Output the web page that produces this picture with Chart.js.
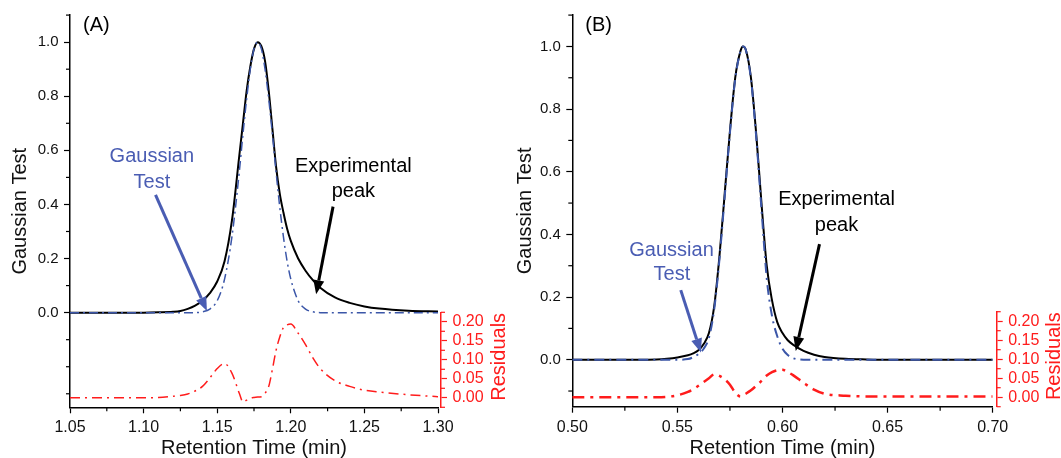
<!DOCTYPE html>
<html>
<head>
<meta charset="utf-8">
<script src="https://cdn.jsdelivr.net/npm/chart.js@4.4.1/dist/chart.umd.min.js"></script>
<style>
  html, body { margin: 0; padding: 0; background: #fff; }
  #wrap { position: relative; width: 1061px; height: 458px; overflow: hidden; }
  #chartA { position: absolute; left: 0; top: 0; }
  #chartB { position: absolute; left: 510px; top: 0; }
</style>
</head>
<body>
<div id="wrap">
  <canvas id="chartA" width="510" height="458"></canvas>
  <canvas id="chartB" width="551" height="458"></canvas>
</div>
<script>
// ---- panel (A) data ----
const timeA = [1.05, 1.08, 1.10, 1.11, 1.12, 1.125, 1.13, 1.135, 1.14, 1.145, 1.15, 1.155, 1.16, 1.165, 1.1675,
  1.17, 1.1725, 1.175, 1.1775, 1.18, 1.1825, 1.185, 1.1875, 1.19, 1.1925, 1.195, 1.1975, 1.20, 1.205, 1.21,
  1.215, 1.22, 1.23, 1.24, 1.25, 1.26, 1.28, 1.30];
const expA = [0, 0, 0, 0.001, 0.003, 0.006, 0.014, 0.026, 0.044, 0.072, 0.115, 0.19, 0.34, 0.58, 0.70,
  0.82, 0.91, 0.975, 1.0, 0.985, 0.93, 0.82, 0.68, 0.54, 0.44, 0.37, 0.31, 0.265, 0.20, 0.155,
  0.12, 0.092, 0.056, 0.036, 0.023, 0.015, 0.007, 0.004];
const gaussA = [0, 0, 0, 0, 0, 0, 0, 0, 0.003, 0.013, 0.044, 0.124, 0.28, 0.52, 0.66,
  0.79, 0.90, 0.975, 1.0, 0.975, 0.90, 0.79, 0.66, 0.52, 0.39, 0.28, 0.19, 0.124, 0.044, 0.013,
  0.003, 0, 0, 0, 0, 0, 0, 0];
const residA = [0, 0, 0, 0.001, 0.004, 0.006, 0.01, 0.018, 0.03, 0.052, 0.077, 0.09, 0.065, 0.012, -0.011,
  -0.006, -0.001, 0.001, 0.002, 0.003, 0.012, 0.03, 0.075, 0.125, 0.16, 0.185, 0.192, 0.194, 0.17, 0.14,
  0.105, 0.077, 0.045, 0.03, 0.02, 0.015, 0.008, 0.003];

// ---- panel (B) data ----
const timeB = [0.50, 0.52, 0.54, 0.545, 0.55, 0.555, 0.5575, 0.56, 0.5625, 0.565, 0.5675, 0.57, 0.5725,
  0.575, 0.5775, 0.58, 0.5812, 0.5825, 0.585, 0.5875, 0.59, 0.5925, 0.595, 0.5975, 0.60, 0.6025, 0.605,
  0.61, 0.615, 0.62, 0.63, 0.64, 0.65, 0.70];
const expB = [0, 0, 0.001, 0.003, 0.007, 0.014, 0.02, 0.03, 0.05, 0.085, 0.17, 0.33, 0.53,
  0.73, 0.90, 0.985, 1.0, 0.99, 0.90, 0.72, 0.50, 0.30, 0.19, 0.12, 0.085, 0.062, 0.048,
  0.028, 0.016, 0.009, 0.003, 0.001, 0, 0];
const gaussB = [0, 0, 0, 0, 0, 0.002, 0.008, 0.018, 0.035, 0.07, 0.16, 0.32, 0.52,
  0.725, 0.895, 0.985, 1.0, 0.99, 0.895, 0.71, 0.48, 0.26, 0.14, 0.075, 0.035, 0.015, 0.005,
  0, 0, 0, 0, 0, 0, 0];
const residB = [0, 0, 0, 0.001, 0.005, 0.014, 0.021, 0.03, 0.04, 0.05, 0.06, 0.056, 0.047,
  0.033, 0.012, 0.002, 0.005, 0.009, 0.018, 0.03, 0.043, 0.057, 0.066, 0.071, 0.072, 0.066, 0.058,
  0.038, 0.02, 0.009, 0.004, 0.002, 0.002, 0.002];

// ---- ticks ----
const xTicksA = [1.05, 1.075, 1.10, 1.125, 1.15, 1.175, 1.20, 1.225, 1.25, 1.275, 1.30];
const xLabelsA = [1.05, 1.10, 1.15, 1.20, 1.25, 1.30];
const xTicksB = [0.50, 0.525, 0.55, 0.575, 0.60, 0.625, 0.65, 0.675, 0.70];
const xLabelsB = [0.50, 0.55, 0.60, 0.65, 0.70];
const yTicksA = [-0.3, -0.2, -0.1, 0, 0.1, 0.2, 0.3, 0.4, 0.5, 0.6, 0.7, 0.8, 0.9, 1.0, 1.1];
const yTicksB = [-0.1, 0, 0.1, 0.2, 0.3, 0.4, 0.5, 0.6, 0.7, 0.8, 0.9, 1.0, 1.1];
const yLabels = [0, 0.2, 0.4, 0.6, 0.8, 1.0];
const rTicks = [-0.025, 0, 0.025, 0.05, 0.075, 0.10, 0.125, 0.15, 0.175, 0.20, 0.225];
const rLabels = [0, 0.05, 0.10, 0.15, 0.20];

const BLUE_LINE = '#3b56a8';
const BLUE_TEXT = '#4a5db3';
const RED = '#ff1c1c';
const NONE = 'rgba(0,0,0,0)';

Chart.defaults.font.family = 'Arial, "Liberation Sans", Helvetica, sans-serif';

function pts(xs, ys) { return xs.map((x, i) => ({ x: x, y: ys[i] })); }
function isIn(v, arr) { return arr.some(a => Math.abs(a - v) < 1e-9); }
function setTicks(vals) { return s => { s.ticks = vals.map(v => ({ value: v })); }; }

// moves the residual axis to the lower right corner of the plot
const residAxis = {
  id: 'residAxis',
  afterLayout(chart, args, o) {
    const s = chart.scales.yRes;
    const w = s.width;
    s.left = chart.chartArea.right + o.gap;
    s.right = s.left + w;
    s.bottom = chart.chartArea.bottom;
    s.top = s.bottom - o.height;
    s.height = o.height;
    s.configure();
  }
};

// short ticks for the unlabeled tick values
const minorTicks = {
  id: 'minorTicks',
  afterDraw(chart) {
    const ctx = chart.ctx;
    ctx.save();
    ctx.lineWidth = 1.2;
    Object.values(chart.scales).forEach(s => {
      ctx.strokeStyle = s.options.border.color;
      s.ticks.forEach(t => {
        if (t.label !== '') return;
        const p = s.getPixelForValue(t.value);
        ctx.beginPath();
        if (s.position === 'bottom') { ctx.moveTo(p, s.top); ctx.lineTo(p, s.top + 4); }
        else if (s.position === 'left') { ctx.moveTo(s.right, p); ctx.lineTo(s.right - 4, p); }
        else { ctx.moveTo(s.left, p); ctx.lineTo(s.left + 4, p); }
        ctx.stroke();
      });
    });
    ctx.restore();
  }
};

function drawArrow(ctx, x1, y1, x2, y2, color) {
  const ang = Math.atan2(y2 - y1, x2 - x1), hl = 14, hw = 5.5;
  const bx = x2 - hl * Math.cos(ang), by = y2 - hl * Math.sin(ang);
  ctx.strokeStyle = color;
  ctx.lineWidth = 3;
  ctx.beginPath(); ctx.moveTo(x1, y1); ctx.lineTo(bx, by); ctx.stroke();
  ctx.fillStyle = color;
  ctx.beginPath();
  ctx.moveTo(x2, y2);
  ctx.lineTo(bx + hw * Math.sin(ang), by - hw * Math.cos(ang));
  ctx.lineTo(bx - hw * Math.sin(ang), by + hw * Math.cos(ang));
  ctx.closePath(); ctx.fill();
}

// annotation texts, arrows, panel letter and residual title
const notes = {
  id: 'notes',
  afterDatasetsDraw(chart, args, o) {
    const ctx = chart.ctx, xs = chart.scales.x, ys = chart.scales.y, rs = chart.scales.yRes;
    const px = v => xs.getPixelForValue(v), py = v => ys.getPixelForValue(v);
    ctx.save();
    ctx.font = '20px Arial, "Liberation Sans", sans-serif';
    ctx.textAlign = 'center';
    ctx.textBaseline = 'middle';
    o.labels.forEach(l => { ctx.fillStyle = l.color; ctx.fillText(l.text, px(l.x), py(l.y)); });
    o.arrows.forEach(a => drawArrow(ctx, px(a.from[0]), py(a.from[1]), px(a.to[0]), py(a.to[1]), a.color));
    ctx.textAlign = 'left';
    ctx.fillStyle = '#000';
    ctx.fillText(o.letter, chart.chartArea.left + 13, 25.5);
    ctx.translate(rs.left + 58, (rs.top + rs.bottom) / 2 - 3);
    ctx.rotate(-Math.PI / 2);
    ctx.textAlign = 'center';
    ctx.fillStyle = RED;
    ctx.fillText('Residuals', 0, 0);
    ctx.restore();
  }
};

function panel(id, c) {
  const tickGrid = color => ({ display: true, drawOnChartArea: false, drawTicks: true, tickLength: 6,
    tickWidth: 1.2, tickColor: ctx => (ctx.tick && ctx.tick.label === '') ? NONE : color });
  return new Chart(document.getElementById(id), {
    type: 'line',
    data: {
      datasets: [
        { label: 'Gaussian Test', data: pts(c.t, c.gauss), yAxisID: 'y', borderColor: BLUE_LINE,
          borderWidth: c.blueW, borderDash: c.blueDash },
        { label: 'Experimental peak', data: pts(c.t, c.exp), yAxisID: 'y', borderColor: '#000', borderWidth: 2 },
        { label: 'Residuals', data: pts(c.t, c.resid), yAxisID: 'yRes', borderColor: RED,
          borderWidth: c.redW, borderDash: c.redDash }
      ]
    },
    plugins: [residAxis, minorTicks, notes],
    options: {
      responsive: false,
      animation: false,
      layout: { padding: { top: 13.7, left: 0, right: 0, bottom: 0 } },
      elements: { point: { radius: 0 }, line: { cubicInterpolationMode: 'monotone', fill: false } },
      plugins: {
        legend: { display: false },
        tooltip: { enabled: false },
        residAxis: { gap: c.rGap, height: 95 },
        notes: c.notes
      },
      scales: {
        x: {
          type: 'linear', axis: 'x', position: 'bottom', min: c.xMin, max: c.xMax, bounds: 'data',
          afterFit: s => { s.height = c.xH; },
          afterBuildTicks: setTicks(c.xTicks),
          border: { display: true, color: '#000', width: 1.5 },
          grid: tickGrid('#000'),
          ticks: { autoSkip: false, maxRotation: 0, padding: 5, color: '#111', font: { size: 16 },
            callback: v => isIn(v, c.xLabels) ? v.toFixed(2) : '' },
          title: { display: true, text: 'Retention Time (min)', color: '#111',
            font: { size: 20, lineHeight: 1 }, padding: { top: 0, bottom: 0 } }
        },
        y: {
          type: 'linear', axis: 'y', position: 'left', min: c.yMin, max: 1.1, bounds: 'data',
          afterFit: s => { s.width = c.yW; },
          afterBuildTicks: setTicks(c.yTicks),
          border: { display: true, color: '#000', width: 1.5 },
          grid: tickGrid('#000'),
          ticks: { autoSkip: false, padding: 5.5, color: '#111', font: { size: 15 },
            callback: v => isIn(v, yLabels) ? v.toFixed(1) : '' },
          title: { display: true, text: 'Gaussian Test', color: '#111',
            font: { size: 20, lineHeight: 1 }, padding: { top: c.yTitlePad, bottom: 0 } }
        },
        yRes: {
          type: 'linear', axis: 'y', position: 'right', min: -0.025, max: 0.225, bounds: 'data',
          afterFit: s => { s.width = c.rW; },
          afterBuildTicks: setTicks(rTicks),
          border: { display: true, color: RED, width: 1.5 },
          grid: tickGrid(RED),
          ticks: { autoSkip: false, padding: 5.5, color: RED, font: { size: 16 },
            callback: v => isIn(v, rLabels) ? v.toFixed(2) : '' },
          title: { display: false }
        }
      }
    }
  });
}

panel('chartA', {
  t: timeA, exp: expA, gauss: gaussA, resid: residA,
  xMin: 1.05, xMax: 1.30, xTicks: xTicksA, xLabels: xLabelsA,
  yMin: -0.35, yTicks: yTicksA,
  xH: 50.7, yW: 70, rW: 72, rGap: 3, yTitlePad: 10,
  blueW: 1.5, blueDash: [9, 4, 2, 4], redW: 1.5, redDash: [10, 5, 2, 5],
  notes: {
    letter: '(A)',
    labels: [
      { text: 'Gaussian', x: 1.1056, y: 0.576, color: BLUE_TEXT },
      { text: 'Test', x: 1.1056, y: 0.482, color: BLUE_TEXT },
      { text: 'Experimental', x: 1.2425, y: 0.541, color: '#000' },
      { text: 'peak', x: 1.2425, y: 0.447, color: '#000' }
    ],
    arrows: [
      { from: [1.1081, 0.435], to: [1.143, 0.006], color: BLUE_TEXT },
      { from: [1.2287, 0.392], to: [1.2172, 0.068], color: '#000' }
    ]
  }
});

panel('chartB', {
  t: timeB, exp: expB, gauss: gaussB, resid: residB,
  xMin: 0.50, xMax: 0.70, xTicks: xTicksB, xLabels: xLabelsB,
  yMin: -0.15, yTicks: yTicksB,
  xH: 51.3, yW: 62.3, rW: 68.3, rGap: 4, yTitlePad: 5,
  blueW: 2, blueDash: [10, 5, 2, 5], redW: 2.5, redDash: [12, 6, 3, 6],
  notes: {
    letter: '(B)',
    labels: [
      { text: 'Gaussian', x: 0.5472, y: 0.348, color: BLUE_TEXT },
      { text: 'Test', x: 0.5474, y: 0.271, color: BLUE_TEXT },
      { text: 'Experimental', x: 0.6257, y: 0.512, color: '#000' },
      { text: 'peak', x: 0.6257, y: 0.430, color: '#000' }
    ],
    arrows: [
      { from: [0.5516, 0.222], to: [0.5612, 0.023], color: BLUE_TEXT },
      { from: [0.6176, 0.369], to: [0.6063, 0.028], color: '#000' }
    ]
  }
});
</script>
</body>
</html>
